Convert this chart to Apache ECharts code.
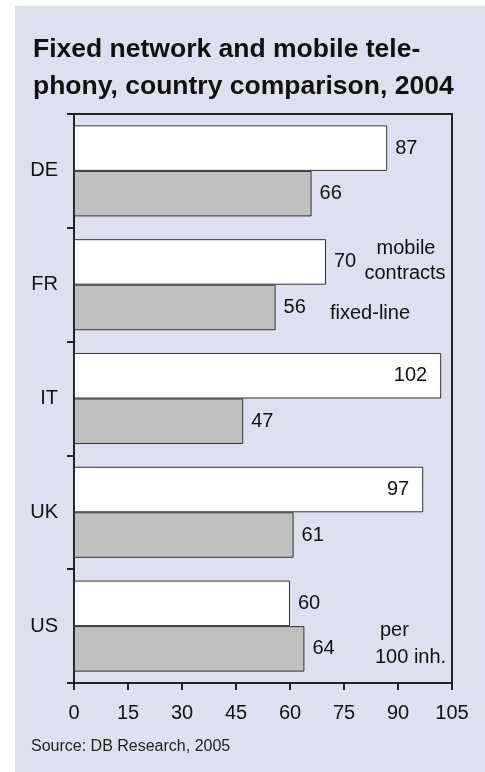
<!DOCTYPE html>
<html>
<head>
<meta charset="utf-8">
<script src="https://cdn.jsdelivr.net/npm/echarts@6/dist/echarts.min.js"></script>
<style>
  html, body { margin: 0; padding: 0; background: #fff; }
  #chart { width: 485px; height: 772px; }
</style>
</head>
<body>
<div id="chart"></div>
<script>
  // countries, top to bottom
  var countries = ['DE', 'FR', 'IT', 'UK', 'US'];
  // per 100 inhabitants
  var mobile = [87, 70, 102, 97, 60];
  var fixedLine = [66, 56, 47, 61, 64];
  // labels drawn inside the bar instead of after it
  var insideLabels = ['IT', 'UK'];
  var xTicks = { min: 0, max: 105, step: 15 };

  var FONT = '"Liberation Sans", Arial, sans-serif';

  var mobileData = mobile.map(function (v, i) {
    var item = { value: v };
    if (insideLabels.indexOf(countries[i]) >= 0) {
      item.label = { position: 'insideRight', distance: 14 };
    }
    return item;
  });

  var myChart = echarts.init(document.getElementById('chart'));
  myChart.setOption({
    backgroundColor: '#ffffff',
    animation: false,
    title: {
      text: 'Fixed network and mobile tele-\nphony, country comparison, 2004',
      left: 33,
      top: 31,
      padding: 0,
      textStyle: {
        fontFamily: FONT,
        fontSize: 26.5,
        fontWeight: 'bold',
        color: '#111',
        lineHeight: 37
      }
    },
    graphic: [
      { type: 'rect', z: -10, silent: true, shape: { x: 15, y: 6, width: 470, height: 766 }, style: { fill: '#dfe0ef' } },
      { type: 'text', style: { text: 'mobile', x: 406, y: 248, textAlign: 'center', textVerticalAlign: 'middle', font: '20px ' + FONT, fill: '#111' } },
      { type: 'text', style: { text: 'contracts', x: 405, y: 273, textAlign: 'center', textVerticalAlign: 'middle', font: '20px ' + FONT, fill: '#111' } },
      { type: 'text', style: { text: 'fixed-line', x: 330, y: 313, textAlign: 'left', textVerticalAlign: 'middle', font: '20px ' + FONT, fill: '#111' } },
      { type: 'text', style: { text: 'per', x: 380, y: 630, textAlign: 'left', textVerticalAlign: 'middle', font: '20px ' + FONT, fill: '#111' } },
      { type: 'text', style: { text: '100 inh.', x: 375, y: 657, textAlign: 'left', textVerticalAlign: 'middle', font: '20px ' + FONT, fill: '#111' } },
      { type: 'text', style: { text: 'Source: DB Research, 2005', x: 31, y: 747, textAlign: 'left', textVerticalAlign: 'middle', font: '16px ' + FONT, fill: '#222' } }
    ],
    grid: {
      left: 74,
      right: 33,
      top: 114,
      bottom: 89,
      show: true,
      backgroundColor: 'transparent',
      borderColor: '#222',
      borderWidth: 2
    },
    xAxis: {
      type: 'value',
      min: xTicks.min,
      max: xTicks.max,
      interval: xTicks.step,
      axisLine: { show: true, lineStyle: { color: '#222', width: 2 } },
      axisTick: { show: true, length: 7, lineStyle: { color: '#222', width: 2 } },
      axisLabel: { margin: 20, fontFamily: FONT, fontSize: 20, color: '#111' },
      splitLine: { show: false }
    },
    yAxis: {
      type: 'category',
      inverse: true,
      data: countries,
      axisLine: { show: true, lineStyle: { color: '#222', width: 2 } },
      axisTick: { show: true, length: 7, lineStyle: { color: '#222', width: 2 } },
      axisLabel: { margin: 16, fontFamily: FONT, fontSize: 20, color: '#111' }
    },
    series: [
      {
        name: 'mobile contracts',
        type: 'bar',
        data: mobileData,
        barGap: '0%',
        barCategoryGap: '20%',
        itemStyle: { color: '#ffffff', borderColor: '#333', borderWidth: 1 },
        label: { show: true, position: 'right', distance: 8, fontFamily: FONT, fontSize: 20, color: '#111' }
      },
      {
        name: 'fixed-line',
        type: 'bar',
        data: fixedLine,
        barGap: '0%',
        barCategoryGap: '20%',
        itemStyle: { color: '#c0c0c0', borderColor: '#333', borderWidth: 1 },
        label: { show: true, position: 'right', distance: 8, fontFamily: FONT, fontSize: 20, color: '#111' }
      }
    ]
  });
</script>
</body>
</html>
